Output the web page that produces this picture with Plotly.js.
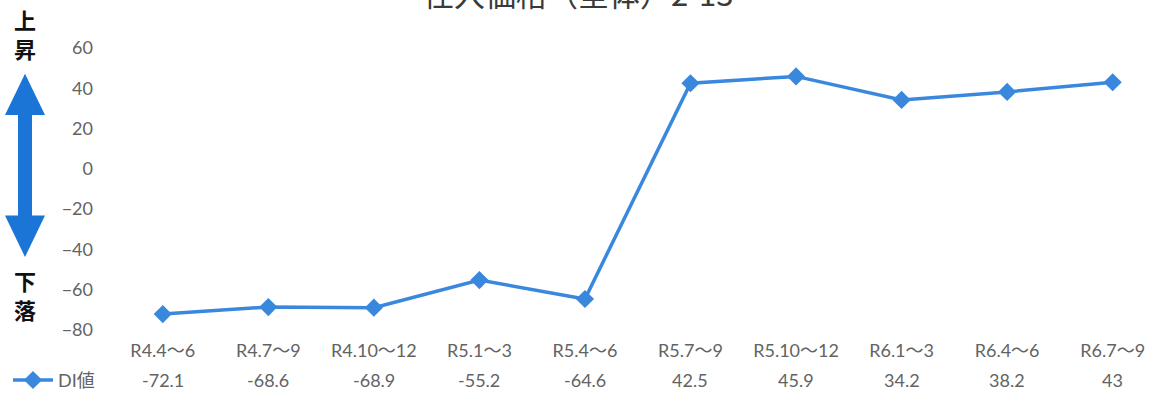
<!DOCTYPE html>
<html>
<head>
<meta charset="utf-8">
<script src="https://cdn.plot.ly/plotly-3.0.1.min.js"></script>
<style>
  html, body { margin: 0; padding: 0; background: #ffffff; }
  #chart { width: 1157px; height: 399px; }
</style>
</head>
<body>
<div id="chart"></div>
<script>
// 仕入価格（全体） DI値の推移
const periods = ["R4.4～6", "R4.7～9", "R4.10～12", "R5.1～3", "R5.4～6",
                 "R5.7～9", "R5.10～12", "R6.1～3", "R6.4～6", "R6.7～9"];
const diValues = [-72.1, -68.6, -68.9, -55.2, -64.6, 42.5, 45.9, 34.2, 38.2, 43];
const diLabels = ["-72.1", "-68.6", "-68.9", "-55.2", "-64.6", "42.5", "45.9", "34.2", "38.2", "43"];
const yTicks = [60, 40, 20, 0, -20, -40, -60, -80];

const W = 1157, H = 399;
const M = { l: 110, r: 0, t: 48, b: 65 };
const plotW = W - M.l - M.r, plotH = H - M.t - M.b;
// pixel -> paper helpers for decorations outside the plot area
const px = v => (v - M.l) / plotW;
const py = v => (H - M.b - v) / plotH;

const font = "Lato, 'Noto Sans CJK JP', sans-serif";
const grey = "#636363";
const lineBlue = "#3a88de";
const arrowBlue = "#1a75d6";

const trace = {
  type: "scatter",
  mode: "lines+markers",
  name: "DI値",
  x: periods,
  y: diValues,
  line: { color: lineBlue, width: 3.5 },
  marker: { symbol: "diamond", size: 14, color: lineBlue },
  hoverinfo: "x+y"
};

// values row under the category labels
const annotations = periods.map((p, i) => ({
  x: p, xref: "x", y: py(385), yref: "paper",
  text: diLabels[i], showarrow: false,
  font: { family: font, size: 18, color: grey },
  xanchor: "center", yanchor: "middle"
}));

annotations.push({
  text: "仕入価格（全体）2-13", showarrow: false,
  x: px(578), xref: "paper", y: py(17), yref: "paper",
  xanchor: "center", yanchor: "bottom",
  font: { family: "'Noto Sans CJK JP', sans-serif", size: 31, color: "#3a3a3a" }
});

[["上<br>昇", 33], ["下<br>落", 298]].forEach(([t, y]) => {
  annotations.push({
    text: "<b>" + t + "</b>", showarrow: false,
    x: px(25), xref: "paper", y: py(y), yref: "paper",
    xanchor: "center", yanchor: "middle",
    font: { family: "'Noto Sans CJK JP', sans-serif", size: 22, color: "#111111" }
  });
});

// double-headed arrow between 上昇 and 下落
const arrowPts = [
  [25, 74], [45, 116], [32, 116], [32, 218], [45, 218],
  [25, 260], [5, 218], [18, 218], [18, 116], [5, 116]
];
const arrowPath = "M " + arrowPts.map(([x, y]) => px(x) + "," + py(y)).join(" L ") + " Z";

const layout = {
  width: W, height: H,
  margin: M,
  paper_bgcolor: "#ffffff",
  plot_bgcolor: "#ffffff",
  font: { family: font, color: grey },
  showlegend: true,
  legend: {
    x: px(8), y: py(385), xanchor: "left", yanchor: "middle",
    orientation: "h",
    itemwidth: 40,
    font: { family: font, size: 18, color: grey },
    bgcolor: "rgba(0,0,0,0)"
  },
  xaxis: {
    type: "category",
    range: [-0.5, 9.42],
    showgrid: false, zeroline: false, showline: false,
    ticks: "",
    tickfont: { family: font, size: 18, color: grey },
    ticklabelstandoff: 8,
    fixedrange: true
  },
  yaxis: {
    range: [-80, 60],
    tickvals: yTicks,
    showgrid: false, zeroline: false, showline: false,
    ticks: "",
    tickfont: { family: font, size: 18, color: grey },
    ticklabelstandoff: 16,
    fixedrange: true
  },
  shapes: [{
    type: "path", xref: "paper", yref: "paper",
    path: arrowPath,
    fillcolor: arrowBlue, line: { width: 0 }
  }],
  annotations: annotations
};

Plotly.newPlot("chart", [trace], layout, { displayModeBar: false, staticPlot: true });
</script>
</body>
</html>
